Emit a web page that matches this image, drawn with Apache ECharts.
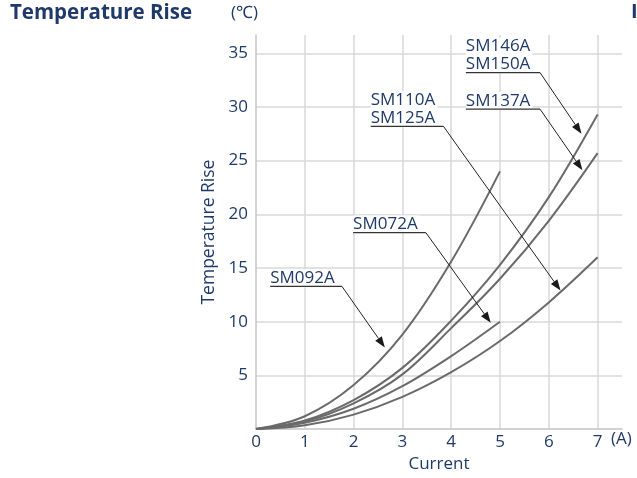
<!DOCTYPE html>
<html>
<head>
<meta charset="utf-8">
<script src="https://cdn.jsdelivr.net/npm/echarts@6/dist/echarts.min.js"></script>
<style>
html,body{margin:0;padding:0;background:#fff;}
#chart{width:637px;height:478px;}
</style>
</head>
<body>
<div id="chart"></div>
<script>
// ---- data ----
const currents = [0, 1, 2, 3, 4, 5, 6, 7];
const sm092A = [0, 1.2, 4.1, 8.8, 15.6, 24.0];
const sm146A = [0, 0.8, 2.7, 5.7, 10.1, 15.3, 21.6, 29.3];
const sm137A = [0, 0.7, 2.4, 5.1, 9.4, 14.0, 19.4, 25.7];
const sm072A = [0, 0.6, 1.9, 4.0, 6.8, 10.0];
const sm110A = [0, 0.35, 1.35, 3.0, 5.3, 8.2, 11.8, 16.0];
const xTicks = [0, 1, 2, 3, 4, 5, 6, 7];
const yTicks = [5, 10, 15, 20, 25, 30, 35];

// annotation labels, text anchor (underline start/end) and arrow tip in data units
const annotTexts = [['SM092A'], ['SM072A'], ['SM110A', 'SM125A'], ['SM137A'], ['SM146A', 'SM150A']];
const annotStart = [[0.29, 13.3], [1.99, 18.3], [2.35, 28.2], [4.30, 29.8], [4.30, 33.2]];
const annotEndX = [1.76, 3.48, 3.84, 5.82, 5.82];
const annotTips = [[2.64, 7.6], [4.81, 9.9], [6.24, 12.9], [6.69, 24.1], [6.67, 27.5]];

const NAVY = '#1f3a6a';
const FONT = '"Open Sans", Lato, sans-serif';
const CURVE = '#6a6a6a';

function pairs(ys) { return ys.map((y, i) => [currents[i], y]); }

const chart = echarts.init(document.getElementById('chart'), null, {renderer: 'canvas'});

const seriesList = [sm092A, sm146A, sm137A, sm072A, sm110A].map((arr, i) => ({
  type: 'line',
  name: ['SM092A', 'SM146A', 'SM137A', 'SM072A', 'SM110A'][i],
  data: pairs(arr),
  smooth: 0.35,
  showSymbol: false,
  lineStyle: {color: CURVE, width: 2},
  silent: true
}));

chart.setOption({
  animation: false,
  grid: {left: 256, top: 35, right: 15, bottom: 48.7, containLabel: false},
  xAxis: {
    type: 'value', min: 0, max: 7.5, interval: 1,
    name: 'Current', nameLocation: 'middle', nameGap: 26,
    nameTextStyle: {color: NAVY, fontSize: 17, fontFamily: FONT},
    axisLine: {show: true, lineStyle: {color: '#c4c4c4', width: 1.5}},
    axisTick: {show: false},
    axisLabel: {
      color: NAVY, fontSize: 17, fontFamily: FONT, margin: 5, showMaxLabel: false,
      formatter: v => (xTicks.indexOf(v) >= 0 ? String(v) : '')
    },
    splitLine: {show: true, showMinLine: false, showMaxLine: false, lineStyle: {color: '#d9d9d9', width: 1.5}}
  },
  yAxis: {
    type: 'value', min: 0, max: 36.7, interval: 5,
    name: 'Temperature Rise', nameLocation: 'middle', nameGap: 38,
    nameTextStyle: {color: NAVY, fontSize: 17.5, fontFamily: FONT},
    axisLine: {show: true, lineStyle: {color: '#c4c4c4', width: 1.5}},
    axisTick: {show: false},
    axisLabel: {
      color: NAVY, fontSize: 17, fontFamily: FONT, margin: 8, showMinLabel: false, showMaxLabel: false,
      formatter: v => (yTicks.indexOf(v) >= 0 ? String(v) : '')
    },
    splitLine: {show: true, showMinLine: false, showMaxLine: false, lineStyle: {color: '#d9d9d9', width: 1.5}}
  },
  series: seriesList
});

// ---- annotations & static texts ----
const g = [];
g.push({type: 'text', left: 10, top: 3, style: {text: 'Temperature Rise', fill: NAVY, font: 'bold 20.5px ' + FONT}});
g.push({type: 'text', left: 231, top: 5, style: {text: '(℃)', fill: NAVY, font: '17px ' + FONT}});
g.push({type: 'text', left: 631, top: 2, style: {text: 'I', fill: NAVY, font: 'bold 20px ' + FONT}});
g.push({type: 'text', left: 611, top: 431, style: {text: '(A)', fill: NAVY, font: '17px ' + FONT}});

annotTexts.forEach((lines, i) => {
  const s = chart.convertToPixel({gridIndex: 0}, annotStart[i]);
  const e = chart.convertToPixel({gridIndex: 0}, [annotEndX[i], annotStart[i][1]]);
  const t = chart.convertToPixel({gridIndex: 0}, annotTips[i]);
  g.push({
    type: 'text', z: 10,
    style: {
      x: s[0], y: s[1] + 1, text: lines.join('\n'), fill: NAVY, font: '17px ' + FONT,
      align: 'left', verticalAlign: 'bottom', lineHeight: 18,
      backgroundColor: '#fff', padding: [0, 2, 0, 0]
    }
  });
  g.push({type: 'line', z: 11, shape: {x1: s[0], y1: s[1], x2: e[0], y2: e[1]},
          style: {stroke: '#333', lineWidth: 1.2}});
  const dx = t[0] - e[0], dy = t[1] - e[1];
  const len = Math.sqrt(dx * dx + dy * dy);
  const ux = dx / len, uy = dy / len;
  const L = 11, W = 4;
  const bx = t[0] - ux * L, by = t[1] - uy * L;
  g.push({type: 'line', z: 11, shape: {x1: e[0], y1: e[1], x2: bx, y2: by},
          style: {stroke: '#222', lineWidth: 1}});
  g.push({type: 'polygon', z: 12, shape: {points: [
            [t[0], t[1]], [bx - uy * W, by + ux * W], [bx + uy * W, by - ux * W]]},
          style: {fill: '#1a1a1a'}});
});

chart.setOption({graphic: g});
</script>
</body>
</html>
